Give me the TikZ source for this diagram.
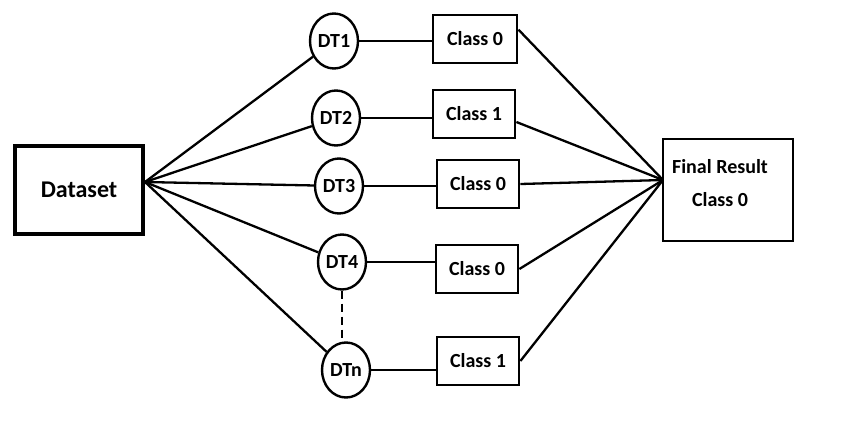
\documentclass[tikz,border=0pt]{standalone}
\usepackage{fontspec}
\setmainfont{Carlito}
\usetikzlibrary{shapes.geometric}
\begin{document}
\begin{tikzpicture}[x=1pt,y=-1pt,
  txt/.style={font=\fontsize{20}{22}\selectfont\bfseries},
  dt/.style={draw,ellipse,line width=2.4pt,minimum width=48pt,minimum height=55pt,inner sep=0pt,txt},
  cls/.style={draw,rectangle,line width=2.8pt,minimum width=82pt,minimum height=48pt,inner sep=0pt,txt},
  conn/.style={line width=2.3pt}]
\useasboundingbox (0,0) rectangle (843,423);
\node[draw,rectangle,line width=4.5pt,minimum width=128pt,minimum height=88pt,inner sep=0pt,font=\fontsize{24}{26}\selectfont\bfseries] (ds) at (79,190) {Dataset};
\coordinate (dsr) at (145,182);
\node[dt] (dt1) at (334,41) {DT1};
\node[dt] (dt2) at (336,118) {DT2};
\node[dt] (dt3) at (339,186) {DT3};
\node[dt] (dt4) at (342,262) {DT4};
\node[dt] (dtn) at (346,370) {DTn};
\node[cls,minimum width=84pt] (c1) at (475,39) {Class 0};
\node[cls] (c2) at (474,114) {Class 1};
\node[cls] (c3) at (478,184) {Class 0};
\node[cls] (c4) at (477,269) {Class 0};
\node[cls] (c5) at (478,361) {Class 1};
\node[draw,rectangle,line width=2.8pt,minimum width=130pt,minimum height=102pt,inner sep=0pt] (fin) at (728,190) {};
\node[txt] (fint) at (720,167) {Final Result};
\node[txt] (finc) at (720,200) {Class 0};
\coordinate (finl) at (663,180);
\foreach \n in {dt1,dt2,dt3,dt4,dtn} \draw[conn] (dsr) -- (\n);
\draw[conn] (dt1.east) -- (c1.west |- dt1.east);
\draw[conn] (dt2.east) -- (c2.west |- dt2.east);
\draw[conn] (dt3.east) -- (c3.west |- dt3.east);
\draw[conn] (dt4.east) -- (c4.west |- dt4.east);
\draw[conn] (dtn.east) -- (c5.west |- dtn.east);
\draw[conn,dash pattern=on 8pt off 5pt] (dt4.south) -- (dt4.south |- dtn.north);
\draw[conn] (c1.north east) ++(0,16) -- (finl);
\draw[conn] (c2.east) ++(0,8) -- (finl);
\draw[conn] (c3.east) -- (finl);
\draw[conn] (c4.east) -- (finl);
\draw[conn] (c5.east) -- (finl);
\end{tikzpicture}
\end{document}
